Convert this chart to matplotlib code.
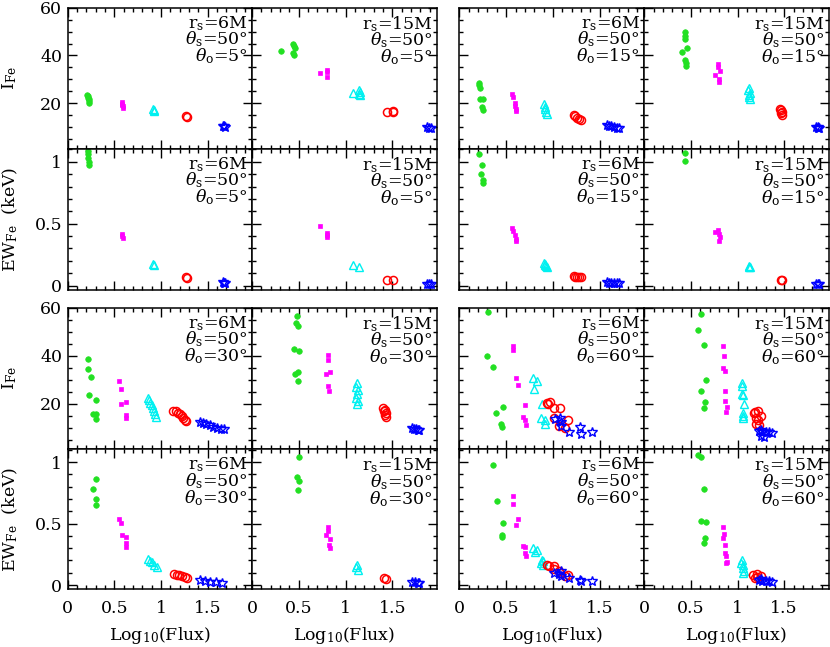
import matplotlib
matplotlib.use('Agg')
import matplotlib.pyplot as plt
from matplotlib.ticker import MultipleLocator, FuncFormatter

plt.rcParams['font.family'] = 'DejaVu Serif'
plt.rcParams['mathtext.fontset'] = 'dejavuserif'

# --- data: (log10 flux, value) per series ---
# series keys: g = green dots, m = magenta squares, c = cyan triangles,
#              r = red circles, b = blue stars

I_6M_5 = {
    'g': ([0.21, 0.215, 0.22, 0.225, 0.23, 0.23], [23.6, 23.0, 22.3, 21.6, 20.9, 20.2]),
    'm': ([0.58, 0.58, 0.585, 0.59, 0.59], [20.5, 19.9, 19.3, 18.8, 18.2]),
    'c': ([0.91, 0.92, 0.93], [17.6, 17.1, 16.7]),
    'r': ([1.27, 1.28], [14.6, 14.2]),
    'b': ([1.66, 1.68, 1.69], [10.6, 10.3, 10.2]),
}
EW_6M_5 = {
    'g': ([0.215, 0.22, 0.22, 0.225, 0.23], [1.09, 1.06, 1.03, 1.0, 0.97]),
    'm': ([0.58, 0.585, 0.59], [0.42, 0.40, 0.385]),
    'c': ([0.915, 0.92], [0.178, 0.168]),
    'r': ([1.27, 1.28], [0.067, 0.063]),
    'b': ([1.66, 1.68, 1.69], [0.026, 0.024, 0.023]),
}

I_15M_5 = {
    'g': ([0.31, 0.44, 0.45, 0.46, 0.44, 0.45], [42.0, 45.0, 44.0, 43.0, 41.0, 40.3]),
    'm': ([0.73, 0.80, 0.80, 0.80], [32.5, 34.0, 33.0, 31.2]),
    'c': ([1.075, 1.14, 1.15, 1.145, 1.15], [24.4, 25.5, 24.7, 24.0, 23.5]),
    'r': ([1.445, 1.505, 1.51], [16.4, 16.5, 16.8]),
    'b': ([1.87, 1.89, 1.91], [9.9, 9.7, 9.6]),
}
EW_15M_5 = {
    'g': ([], []),
    'm': ([0.73, 0.80, 0.80, 0.80], [0.48, 0.425, 0.405, 0.39]),
    'c': ([1.075, 1.145], [0.167, 0.147]),
    'r': ([1.445, 1.505], [0.046, 0.046]),
    'b': ([1.87, 1.89, 1.91], [0.015, 0.014, 0.013]),
}

I_6M_15 = {
    'g': ([0.21, 0.21, 0.22, 0.22, 0.25, 0.24, 0.25], [28.6, 27.5, 26.2, 22.0, 21.8, 18.5, 17.0]),
    'm': ([0.565, 0.57, 0.59, 0.59, 0.60, 0.60], [23.8, 22.5, 20.0, 19.0, 17.5, 16.8]),
    'c': ([0.90, 0.91, 0.92, 0.93, 0.94], [19.5, 18.5, 17.5, 16.5, 15.5]),
    'r': ([1.22, 1.24, 1.26, 1.28, 1.30], [15.2, 14.6, 14.0, 13.5, 13.1]),
    'b': ([1.58, 1.60, 1.62, 1.65, 1.68, 1.70], [10.8, 10.6, 10.3, 10.0, 9.8, 9.6]),
}
EW_6M_15 = {
    'g': ([0.21, 0.24, 0.235, 0.25, 0.25], [1.06, 0.97, 0.90, 0.85, 0.825]),
    'm': ([0.565, 0.57, 0.59, 0.60, 0.60], [0.465, 0.44, 0.405, 0.375, 0.36]),
    'c': ([0.90, 0.91, 0.92, 0.93, 0.94], [0.18, 0.172, 0.165, 0.158, 0.153]),
    'r': ([1.22, 1.24, 1.26, 1.28, 1.30], [0.075, 0.073, 0.071, 0.070, 0.069]),
    'b': ([1.58, 1.60, 1.62, 1.65, 1.68, 1.70], [0.026, 0.025, 0.024, 0.024, 0.023, 0.023]),
}

I_15M_15 = {
    'g': ([0.44, 0.44, 0.44, 0.40, 0.46, 0.44, 0.45, 0.45], [49.7, 48.0, 46.8, 41.6, 43.0, 38.0, 37.0, 35.6]),
    'm': ([0.79, 0.79, 0.81, 0.76, 0.80, 0.80], [36.5, 35.3, 33.5, 32.0, 30.2, 29.0]),
    'c': ([1.12, 1.11, 1.13, 1.12, 1.12, 1.13], [26.5, 25.5, 24.5, 23.5, 22.5, 22.0]),
    'r': ([1.46, 1.47, 1.48, 1.47, 1.48], [17.8, 17.0, 16.5, 16.0, 15.3]),
    'b': ([1.84, 1.86, 1.86, 1.87], [10.2, 9.9, 9.6, 9.5]),
}
EW_15M_15 = {
    'g': ([0.44, 0.44], [1.07, 1.005]),
    'm': ([0.76, 0.79, 0.80, 0.81, 0.80], [0.43, 0.45, 0.415, 0.395, 0.36]),
    'c': ([1.12, 1.125, 1.13], [0.158, 0.152, 0.148]),
    'r': ([1.47, 1.48], [0.047, 0.045]),
    'b': ([1.84, 1.86, 1.87], [0.015, 0.014, 0.013]),
}

I_6M_30 = {
    'g': ([0.22, 0.214, 0.25, 0.225, 0.30, 0.27, 0.30, 0.30], [38.4, 34.6, 31.1, 23.8, 21.6, 15.7, 15.5, 13.6]),
    'm': ([0.553, 0.567, 0.575, 0.62, 0.62, 0.63], [29.3, 26.2, 19.9, 20.8, 15.3, 14.0]),
    'c': ([0.86, 0.87, 0.88, 0.90, 0.91, 0.93, 0.94, 0.95], [22.4, 21.5, 20.3, 19.5, 18.2, 17.0, 15.5, 14.5]),
    'r': ([1.13, 1.16, 1.18, 1.20, 1.22, 1.24, 1.26, 1.27], [17.1, 16.8, 16.2, 15.5, 14.8, 13.9, 13.2, 12.7]),
    'b': ([1.42, 1.45, 1.48, 1.52, 1.56, 1.60, 1.64, 1.67], [12.3, 12.0, 11.6, 11.0, 10.4, 10.0, 9.6, 9.3]),
}
EW_6M_30 = {
    'g': ([0.30, 0.27, 0.30, 0.30], [0.865, 0.784, 0.703, 0.655]),
    'm': ([0.553, 0.567, 0.585, 0.62, 0.63, 0.63], [0.541, 0.501, 0.411, 0.392, 0.338, 0.311]),
    'c': ([0.864, 0.88, 0.90, 0.925, 0.954], [0.208, 0.198, 0.189, 0.162, 0.149]),
    'r': ([1.14, 1.17, 1.19, 1.22, 1.26, 1.275], [0.089, 0.085, 0.081, 0.073, 0.062, 0.057]),
    'b': ([1.417, 1.471, 1.525, 1.59, 1.65], [0.040, 0.032, 0.027, 0.022, 0.019]),
}

I_15M_30 = {
    'g': ([0.48, 0.47, 0.49, 0.445, 0.50, 0.46, 0.49, 0.49], [56.5, 53.6, 52.2, 42.6, 41.8, 32.5, 33.2, 29.5]),
    'm': ([0.81, 0.815, 0.79, 0.83, 0.815, 0.82], [40.3, 38.2, 32.2, 33.0, 27.2, 25.3]),
    'c': ([1.12, 1.11, 1.13, 1.12, 1.11, 1.13, 1.12], [28.5, 27.0, 25.5, 24.0, 22.5, 21.0, 20.0]),
    'r': ([1.40, 1.42, 1.41, 1.43, 1.42, 1.43], [18.3, 17.5, 16.8, 16.0, 15.2, 14.5]),
    'b': ([1.71, 1.73, 1.75, 1.77, 1.79], [9.9, 9.6, 9.4, 9.2, 9.1]),
}
EW_15M_30 = {
    'g': ([0.50, 0.478, 0.50, 0.495], [1.041, 0.878, 0.843, 0.776]),
    'm': ([0.818, 0.811, 0.793, 0.836, 0.822, 0.829], [0.473, 0.438, 0.405, 0.378, 0.324, 0.302]),
    'c': ([1.122, 1.115, 1.13], [0.162, 0.143, 0.122]),
    'r': ([1.407, 1.436], [0.059, 0.045]),
    'b': ([1.71, 1.74, 1.77, 1.79], [0.022, 0.021, 0.020, 0.019]),
}

I_6M_60 = {
    'g': ([0.311, 0.301, 0.361, 0.465, 0.397, 0.45, 0.454], [58.1, 39.7, 35.1, 18.5, 16.0, 11.5, 10.1]),
    'm': ([0.572, 0.572, 0.608, 0.622, 0.70, 0.683, 0.697, 0.711], [43.9, 42.4, 30.6, 27.9, 19.6, 14.6, 13.2, 11.2]),
    'c': ([0.79, 0.833, 0.793, 0.883, 0.868, 0.911, 0.918], [30.6, 29.3, 25.9, 19.7, 14.2, 13.2, 11.5]),
    'r': ([0.933, 0.968, 0.947, 1.015, 1.079, 1.015, 1.165, 1.068, 1.133], [20.2, 20.6, 19.7, 18.2, 18.3, 14.0, 13.3, 10.5, 10.0]),
    'b': ([1.019, 1.076, 1.083, 1.09, 1.169, 1.287, 1.297, 1.419], [13.8, 14.0, 12.2, 10.8, 8.0, 10.4, 7.3, 8.3]),
}
EW_6M_60 = {
    'g': ([0.363, 0.40, 0.468, 0.454, 0.454], [0.981, 0.684, 0.503, 0.408, 0.394]),
    'm': ([0.575, 0.575, 0.622, 0.608, 0.683, 0.704, 0.697, 0.711], [0.724, 0.657, 0.535, 0.489, 0.314, 0.31, 0.26, 0.24]),
    'c': ([0.783, 0.829, 0.804, 0.883, 0.872, 0.897, 0.89], [0.30, 0.286, 0.272, 0.205, 0.178, 0.192, 0.16]),
    'r': ([0.933, 0.961, 1.015, 1.008, 1.068, 1.079, 1.161, 1.133], [0.16, 0.152, 0.152, 0.133, 0.117, 0.097, 0.078, 0.07]),
    'b': ([1.008, 1.068, 1.086, 1.086, 1.169, 1.29, 1.30, 1.419], [0.097, 0.089, 0.070, 0.111, 0.057, 0.043, 0.035, 0.03]),
}

I_15M_60 = {
    'g': ([0.611, 0.576, 0.636, 0.661, 0.604, 0.647, 0.636], [57.5, 50.7, 44.2, 30.0, 25.4, 20.6, 18.1]),
    'm': ([0.843, 0.85, 0.843, 0.865, 0.865, 0.861, 0.883, 0.876], [43.8, 39.9, 34.8, 33.5, 25.1, 20.9, 18.7, 16.4]),
    'c': ([1.047, 1.043, 1.043, 1.061, 1.068, 1.054, 1.061, 1.054], [28.7, 27.2, 24.1, 23.7, 19.7, 16.1, 15.0, 13.9]),
    'r': ([1.186, 1.222, 1.175, 1.247, 1.193, 1.222, 1.193, 1.229], [16.7, 17.1, 16.0, 15.0, 14.1, 13.0, 11.6, 11.3]),
    'b': ([1.229, 1.265, 1.247, 1.30, 1.336, 1.372, 1.283, 1.254], [8.7, 8.0, 6.6, 8.0, 8.4, 7.6, 6.3, 9.1]),
}
EW_15M_60 = {
    'g': ([0.576, 0.611, 0.636, 0.604, 0.661, 0.647, 0.636], [1.062, 1.041, 0.779, 0.522, 0.51, 0.381, 0.346]),
    'm': ([0.843, 0.85, 0.843, 0.865, 0.865, 0.872, 0.883, 0.876], [0.473, 0.419, 0.386, 0.327, 0.257, 0.24, 0.191, 0.178]),
    'c': ([1.047, 1.04, 1.061, 1.054, 1.068, 1.061], [0.205, 0.178, 0.165, 0.138, 0.117, 0.097]),
    'r': ([1.168, 1.211, 1.247, 1.186, 1.211], [0.084, 0.089, 0.070, 0.057, 0.062]),
    'b': ([1.229, 1.265, 1.30, 1.336, 1.372, 1.247], [0.043, 0.030, 0.035, 0.030, 0.024, 0.051]),
}

radius_labels = ['6M', '15M', '6M', '15M']
theta_s = 50
theta_o_top = [5, 5, 15, 15]
theta_o_bottom = [30, 30, 60, 60]

# marker styles
STYLE = {
    'g': dict(marker='o', ms=4.0, mfc='#22e022', mec='#22e022', mew=0.5),
    'm': dict(marker='s', ms=3.0, mfc='#ff00ff', mec='#ff00ff', mew=0.5),
    'c': dict(marker='^', ms=5.5, mfc='none', mec='#00f0f0', mew=1.0),
    'r': dict(marker='o', ms=5.8, mfc='none', mec='#ff0000', mew=1.1),
    'b': dict(marker='*', ms=7.2, mfc='none', mec='#0000ff', mew=1.0),
}

W, H = 830, 647
col_px = [(67.7, 252.0), (252.0, 436.7), (459.3, 644.3), (644.3, 828.5)]
row_px = [(7.7, 148.7), (148.7, 290.0), (307.5, 449.3), (449.3, 589.3)]


def rect(c, r):
    x0, x1 = col_px[c]
    y0, y1 = row_px[r]
    return [x0 / W, 1 - y1 / H, (x1 - x0) / W, (y1 - y0) / H]


fmt = FuncFormatter(lambda v, p: f'{v:g}')

fig = plt.figure(figsize=(W / 100, H / 100), dpi=100)

panels = [
    (0, 0, I_6M_5, EW_6M_5, radius_labels[0], theta_o_top[0]),
    (1, 0, I_15M_5, EW_15M_5, radius_labels[1], theta_o_top[1]),
    (2, 0, I_6M_15, EW_6M_15, radius_labels[2], theta_o_top[2]),
    (3, 0, I_15M_15, EW_15M_15, radius_labels[3], theta_o_top[3]),
    (0, 2, I_6M_30, EW_6M_30, radius_labels[0], theta_o_bottom[0]),
    (1, 2, I_15M_30, EW_15M_30, radius_labels[1], theta_o_bottom[1]),
    (2, 2, I_6M_60, EW_6M_60, radius_labels[2], theta_o_bottom[2]),
    (3, 2, I_15M_60, EW_15M_60, radius_labels[3], theta_o_bottom[3]),
]

for col, row, idata, ewdata, rlab, tho in panels:
    for k, data in enumerate([idata, ewdata]):
        ax = fig.add_axes(rect(col, row + k))
        for key in ['g', 'm', 'c', 'r', 'b']:
            xs, ys = data[key]
            ax.plot(xs, ys, ls='none', **STYLE[key])
        ax.set_xlim(0, 1.975)
        ax.xaxis.set_major_locator(MultipleLocator(0.5))
        ax.xaxis.set_minor_locator(MultipleLocator(0.1))
        if k == 0:
            ax.set_ylim(1, 60)
            ax.yaxis.set_major_locator(MultipleLocator(20))
            ax.yaxis.set_minor_locator(MultipleLocator(5))
        else:
            ax.set_ylim(-0.035, 1.105)
            ax.yaxis.set_major_locator(MultipleLocator(0.5))
            ax.yaxis.set_minor_locator(MultipleLocator(0.1))
        ax.xaxis.set_major_formatter(fmt)
        ax.yaxis.set_major_formatter(fmt)
        ax.tick_params(which='both', direction='in', top=True, right=True,
                       width=1.0, labelsize=12.5, colors='black')
        ax.tick_params(which='major', length=6.5)
        ax.tick_params(which='minor', length=3.2)
        ax.tick_params(axis='x', pad=8)
        ax.tick_params(axis='y', pad=4)
        if col != 0:
            ax.tick_params(labelleft=False)
        if row + k != 3:
            ax.tick_params(labelbottom=False)
        for sp in ax.spines.values():
            sp.set_linewidth(1.1)
        label = '\n'.join([r'r$_{\rm s}$=' + rlab,
                           r'$\theta_{\rm s}$=%d°' % theta_s,
                           r'$\theta_{\rm o}$=%d°' % tho])
        ax.text(0.978, 0.955, label, transform=ax.transAxes,
                ha='right', va='top', multialignment='right',
                linespacing=0.8, fontsize=12.5)

# axis labels
for r in range(4):
    y0, y1 = row_px[r]
    yc = 1 - (y0 + y1) / 2 / H
    lab = r'I$_{\rm Fe}$' if r % 2 == 0 else r'EW$_{\rm Fe}$  (keV)'
    fig.text(10 / W, yc, lab, rotation=90, ha='center', va='center', fontsize=12.5)

for c in range(4):
    x0, x1 = col_px[c]
    fig.text((x0 + x1) / 2 / W, 1 - 635 / H, r'Log$_{10}$(Flux)',
             ha='center', va='center', fontsize=12.5)

fig.savefig('out.png', dpi=100)
